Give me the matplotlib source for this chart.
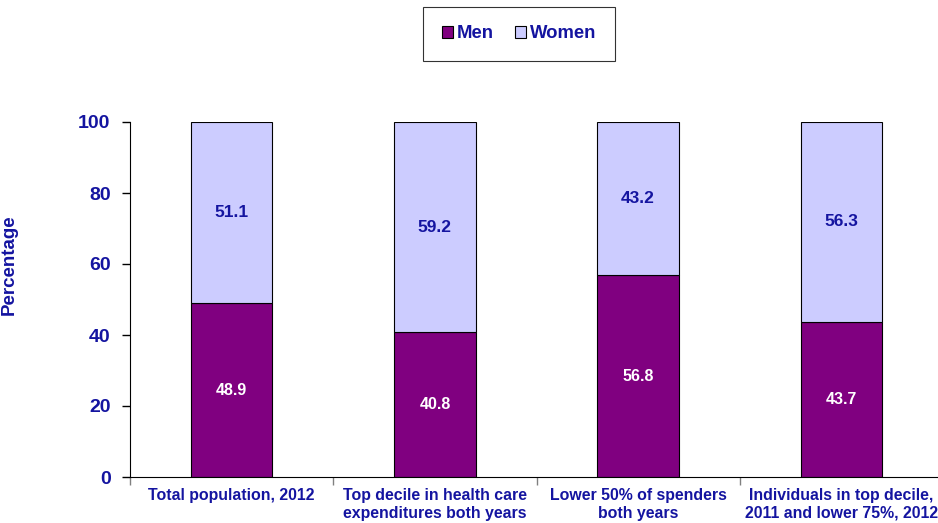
import matplotlib.pyplot as plt
import numpy as np

categories = [
    "Total population, 2012",
    "Top decile in health care\nexpenditures both years",
    "Lower 50% of spenders\nboth years",
    "Individuals in top decile,\n2011 and lower 75%, 2012",
]
men = [48.9, 40.8, 56.8, 43.7]
women = [51.1, 59.2, 43.2, 56.3]

text_color = '#1414a0'
plt.rcParams['font.family'] = ['Liberation Sans', 'DejaVu Sans']
plt.rcParams['font.weight'] = 'bold'

fig = plt.figure(figsize=(9.38, 5.23), dpi=100)
ax = fig.add_axes([130 / 938, 1 - 477 / 523, 813 / 938, 355 / 523])

x = np.arange(len(categories))
width = 0.4
ax.bar(x, men, width, color='#800080', edgecolor='black', linewidth=0.8, label='Men')
ax.bar(x, women, width, bottom=men, color='#ccccff', edgecolor='black', linewidth=0.8, label='Women')

for i in range(len(categories)):
    ax.text(x[i], men[i] / 2, f"{men[i]:.1f}", ha='center', va='center',
            color='white', fontsize=11.5, fontweight='bold')
    ax.text(x[i], men[i] + women[i] / 2, f"{women[i]:.1f}", ha='center', va='center',
            color=text_color, fontsize=12.5, fontweight='bold')

ax.set_xlim(-0.5, len(categories) - 0.5)
ax.set_ylim(0, 100)
ax.set_yticks(range(0, 101, 20))
ax.tick_params(axis='y', labelsize=14, labelcolor=text_color, length=6, width=1, pad=8)
ax.set_xticks(x)
ax.set_xticklabels(categories, fontsize=11.4, color=text_color, fontweight='bold', linespacing=1.2)
ax.tick_params(axis='x', length=0, pad=8)
ax.set_xticks(np.arange(-0.5, len(categories)), minor=True)
ax.tick_params(axis='x', which='minor', length=6, width=1, color='#808080')
for s in ['top', 'right']:
    ax.spines[s].set_visible(False)
ax.set_ylabel("Percentage", fontsize=13.5, color=text_color, fontweight='bold')
ax.yaxis.set_label_coords(-0.138, 0.597)

leg = fig.legend(loc='center', bbox_to_anchor=(519 / 938, 1 - 34 / 523), ncol=2,
                 frameon=True, fancybox=False, edgecolor='black', fontsize=13.3,
                 handlelength=0.6, handleheight=0.6, handletextpad=0.2,
                 columnspacing=1.15, borderpad=1.0, borderaxespad=0)
leg.get_frame().set_linewidth(0.8)
for t in leg.get_texts():
    t.set_color(text_color)
    t.set_fontweight('bold')

fig.savefig('out.png', dpi=100)
